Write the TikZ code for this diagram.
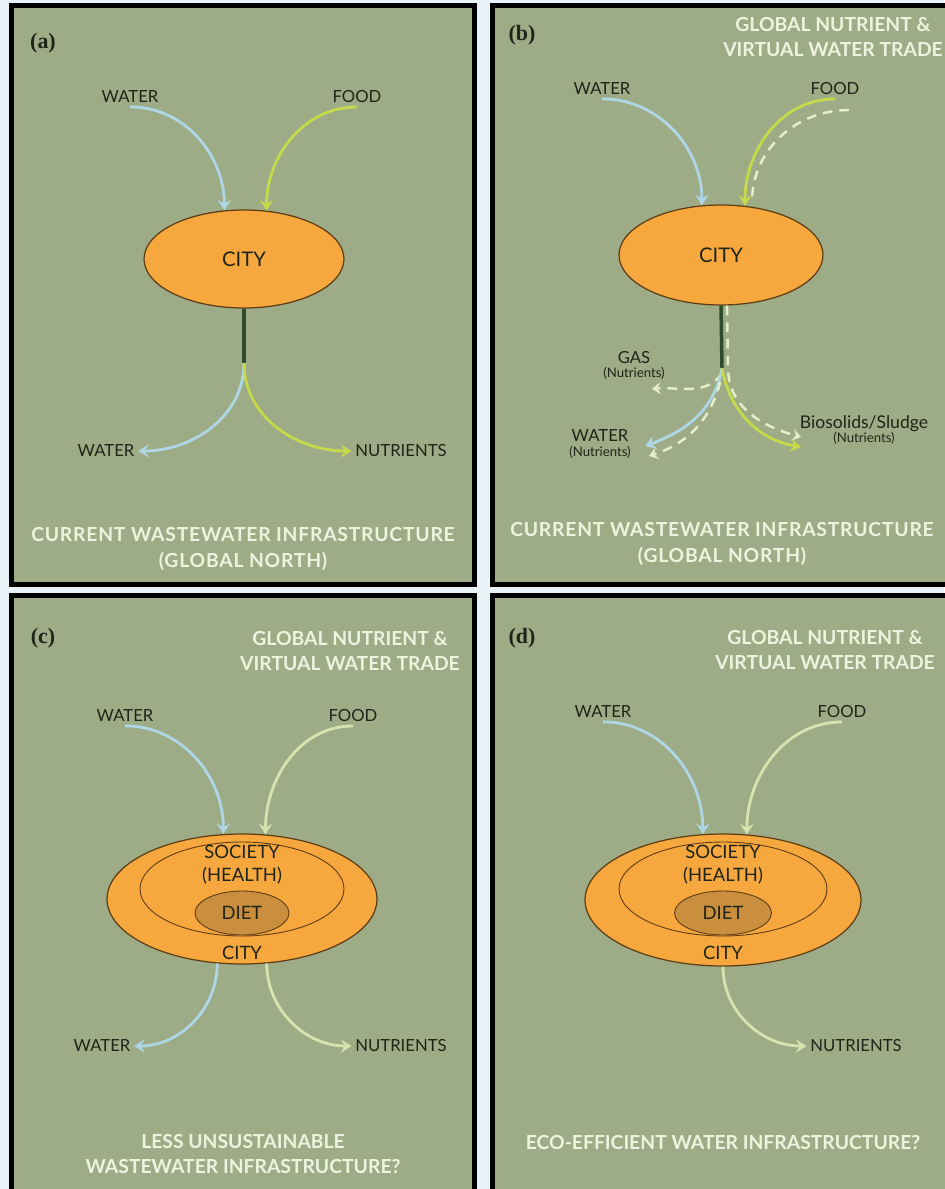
\documentclass[tikz,border=0pt]{standalone}
\usepackage{fontspec}
\setmainfont{Lato}
\newfontfamily\tagfont{Liberation Serif}
\usetikzlibrary{positioning,shapes.geometric,arrows.meta}

\definecolor{bgpale}{HTML}{E9F2F6}
\definecolor{panelgreen}{HTML}{9DAC86}
\definecolor{waterblue}{HTML}{AED6E4}
\definecolor{foodgreen}{HTML}{C6D94A}
\definecolor{palegreen}{HTML}{D5E4AE}
\definecolor{tracecream}{HTML}{E6EEC9}
\definecolor{cityorange}{HTML}{F6A83E}
\definecolor{cityedge}{HTML}{5E3C14}
\definecolor{dietbrown}{HTML}{C98F3E}
\definecolor{stemgreen}{HTML}{2E4B2C}
\definecolor{titlewhite}{HTML}{EEF3DF}
\definecolor{textdark}{HTML}{1F2418}

\begin{document}
\begin{tikzpicture}[x=0.02cm,y=-0.02cm,
  panel/.style={draw=black,line width=2.9pt,fill=panelgreen},
  tag/.style={font=\tagfont\bfseries\fontsize{12.5}{13}\selectfont,text=textdark},
  lbl/.style={font=\fontsize{9.5}{10}\selectfont,text=textdark,inner sep=2pt},
  twolbl/.style={lbl,align=center},
  head/.style={font=\bfseries\fontsize{11}{14.5}\selectfont,text=titlewhite,align=center},
  wide/.style={font=\bfseries\fontsize{11}{14.5}\selectfont\addfontfeature{LetterSpace=4}},
  city/.style={ellipse,draw=cityedge,line width=0.7pt,fill=cityorange,inner sep=0pt,
    text=textdark,font=\fontsize{11.5}{12}\selectfont},
  ring/.style={ellipse,draw=cityedge,line width=0.5pt,inner sep=0pt},
  diet/.style={ring,fill=dietbrown,text=textdark,font=\fontsize{10.5}{11}\selectfont},
  inner lbl/.style={text=textdark,font=\fontsize{10.5}{13}\selectfont,align=center,inner sep=1pt},
  flow/.style={line width=1.6pt,-{Stealth[length=6pt,width=7.5pt,inset=2.2pt]}},
  water/.style={flow,draw=waterblue},
  food/.style={flow,draw=foodgreen},
  pale/.style={flow,draw=palegreen},
  trace/.style={line width=1.4pt,draw=tracecream,dash pattern=on 5.5pt off 4pt},
  stem/.style={line width=2pt,draw=stemgreen}]

\useasboundingbox (0,0) rectangle (944,1189);
\fill[bgpale] (0,0) rectangle (944,1189);

% the four panels
\draw[panel] (11.5,5.5) rectangle (474.5,584.5);
\draw[panel] (492.5,5.5) rectangle (965,584.5);
\draw[panel] (11.5,595.5) rectangle (474.5,1210);
\draw[panel] (492.5,595.5) rectangle (965,1210);

% (a)
\node[tag] (atag) at (43,43) {(a)};
\node[lbl] (a-win) at (130,97) {WATER};
\node[lbl] (a-fin) at (357,97) {FOOD};
\node[city,minimum width=4cm,minimum height=1.96cm] (a-city) at (244,259) {CITY};
\coordinate (a-j) at (244,363);
\node[lbl] (a-wout) at (106,451) {WATER};
\node[lbl] (a-nout) at (401,451) {NUTRIENTS};
\node[head,wide] (a-head) at (243,549) {CURRENT WASTEWATER INFRASTRUCTURE\\(GLOBAL NORTH)};

\draw[water] (a-win.south) to[out=0,in=90] (a-city.112);
\draw[food] (a-fin.south) to[out=180,in=90] (a-city.65);
\draw[stem] (a-city.south) -- (a-j);
\draw[water] (a-j) to[out=-90,in=0] (a-wout.east);
\draw[food] (a-j) to[out=-90,in=180] (a-nout.west);

% (b)
\node[tag] (btag) at (522,35) {(b)};
\node[head] (b-trade) at (833,37) {GLOBAL NUTRIENT \&\\VIRTUAL WATER TRADE};
\node[lbl] (b-win) at (602,89) {WATER};
\node[lbl] (b-fin) at (835,89) {FOOD};
\node[city,minimum width=4.08cm,minimum height=2cm] (b-city) at (721,255) {CITY};
\coordinate (b-j) at (722,368);
\coordinate (b-dj) at (728,368);
\coordinate (b-fd0) at (849,110);
\coordinate (b-fd1) at (752,199);
\node[twolbl] (b-gas) at (634,365) {GAS\\[-2pt]{\fontsize{7.5}{8}\selectfont(Nutrients)}};
\node[twolbl] (b-wout) at (600,444) {WATER\\[-2pt]{\fontsize{7.5}{8}\selectfont(Nutrients)}};
\node[twolbl,font=\fontsize{10}{10}\selectfont] (b-bio) at (864,430) {Biosolids/Sludge\\[-2pt]{\fontsize{7.5}{8}\selectfont(Nutrients)}};
\coordinate (b-gt) at (652,389);
\coordinate (b-wt) at (645,446);
\coordinate (b-wd) at (649,456);
\coordinate (b-nt) at (801,447);
\coordinate (b-nd) at (801,437);
\node[head,wide] (b-head) at (722,544) {CURRENT WASTEWATER INFRASTRUCTURE\\(GLOBAL NORTH)};

\draw[water] (b-win.south) to[out=0,in=90] (b-city.111);
\draw[trace] (b-fd0) to[out=180,in=88] (b-fd1);
\draw[food] (b-fin.south) to[out=180,in=90] (b-city.64);
\draw[stem] (b-city.south) -- (b-j);
\draw[trace,-{Stealth[length=5pt,width=7pt,inset=2pt]}] ([xshift=3.4pt]b-city.south) -- (b-dj)
  to[out=-90,in=165] (b-nd);
\draw[trace,-{Stealth[length=5pt,width=7pt,inset=2pt]}] ([yshift=-3pt]b-j) to[out=-125,in=5] (b-gt);
\draw[water] (b-j) to[out=-100,in=20] (b-wt);
\draw[trace,-{Stealth[length=5pt,width=7pt,inset=2pt]}] ([xshift=-1pt,yshift=-8pt]b-j) to[out=-105,in=18] (b-wd);
\draw[food] (b-j) to[out=-80,in=170] (b-nt);

% (c)
\node[tag] (ctag) at (43,638) {(c)};
\node[head] (c-trade) at (350,651) {GLOBAL NUTRIENT \&\\VIRTUAL WATER TRADE};
\node[lbl] (c-win) at (125,716) {WATER};
\node[lbl] (c-fin) at (353,716) {FOOD};
\node[city,minimum width=5.4cm,minimum height=2.6cm] (c-city) at (242,899) {};
\node[ring,minimum width=4.08cm,minimum height=1.88cm] (c-soc) at (242,889) {};
\node[diet,minimum width=1.88cm,minimum height=0.88cm] (c-diet) at (242,913) {DIET};
\node[inner lbl] (c-soctxt) at (242,865) {SOCIETY\\(HEALTH)};
\node[inner lbl] (c-citytxt) at (242,953) {CITY};
\node[lbl] (c-wout) at (102,1046) {WATER};
\node[lbl] (c-nout) at (401,1046) {NUTRIENTS};
\node[head] (c-head) at (243,1154) {LESS UNSUSTAINABLE\\WASTEWATER INFRASTRUCTURE?};

\draw[water] (c-win.south) to[out=0,in=90] (c-city.106);
\draw[pale] (c-fin.south) to[out=180,in=90] (c-city.70);
\draw[water] (c-city.249) to[out=-90,in=0] (c-wout.east);
\draw[pale] (c-city.291) to[out=-90,in=180] (c-nout.west);

% (d)
\node[tag] (dtag) at (522,638) {(d)};
\node[head] (d-trade) at (825,650) {GLOBAL NUTRIENT \&\\VIRTUAL WATER TRADE};
\node[lbl] (d-win) at (603,712) {WATER};
\node[lbl] (d-fin) at (842,712) {FOOD};
\node[city,minimum width=5.52cm,minimum height=2.64cm] (d-city) at (723,900) {};
\node[ring,minimum width=4.16cm,minimum height=1.88cm] (d-soc) at (723,889) {};
\node[diet,minimum width=1.94cm,minimum height=0.88cm] (d-diet) at (723,913) {DIET};
\node[inner lbl] (d-soctxt) at (723,865) {SOCIETY\\(HEALTH)};
\node[inner lbl] (d-citytxt) at (723,953) {CITY};
\node[lbl] (d-nout) at (856,1046) {NUTRIENTS};
\node[head] (d-head) at (723,1142) {ECO-EFFICIENT WATER INFRASTRUCTURE?};

\draw[water] (d-win.south) to[out=0,in=90] (d-city.107);
\draw[pale] (d-fin.south) to[out=180,in=90] (d-city.70);
\draw[pale] (d-city.south) to[out=-90,in=180] (d-nout.west);
\end{tikzpicture}
\end{document}
